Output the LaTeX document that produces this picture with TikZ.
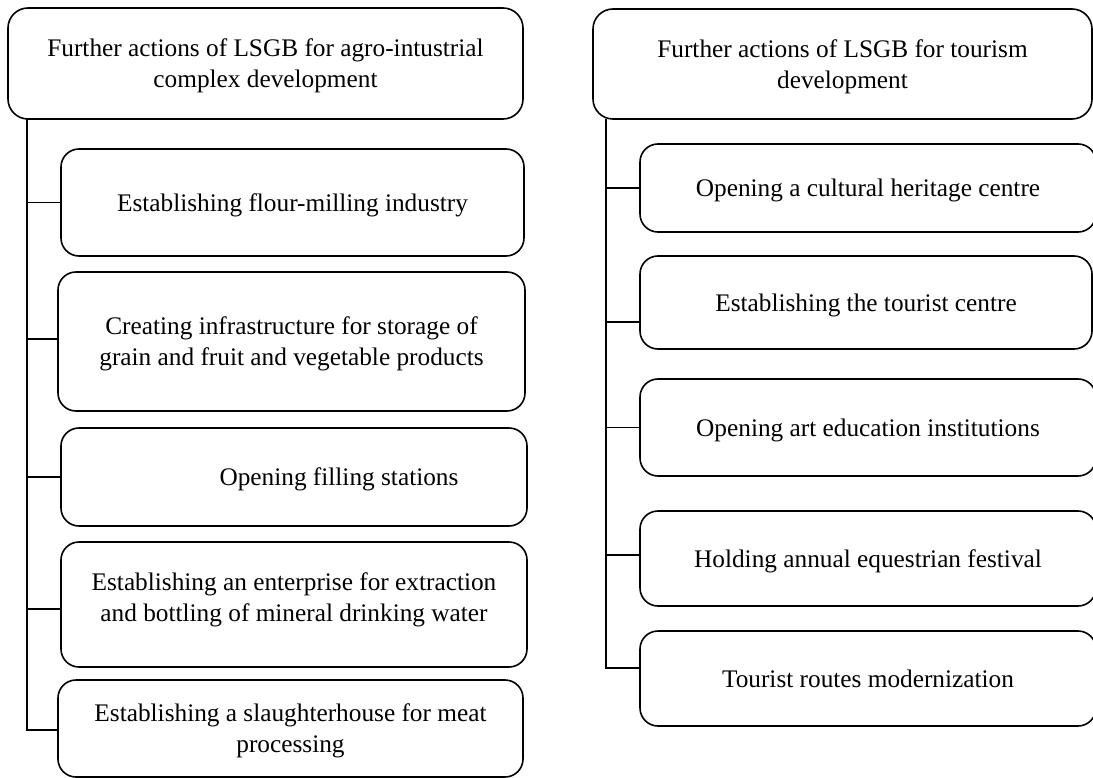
\documentclass[tikz,border=0pt]{standalone}
\usepackage{fontspec}
\setmainfont{Liberation Serif}
\usetikzlibrary{calc}
\begin{document}
\begin{tikzpicture}[
    x=1pt, y=-1pt,
    line width=1.6pt,
    head box/.style={draw, rounded corners=20pt, align=center, inner sep=0pt,
        text depth=0pt, font=\fontsize{25.3}{31}\selectfont},
    item box/.style={head box, rounded corners=18pt}
]
    \useasboundingbox (0,0) rectangle (1093,778);

    % agro-industrial column
    \node[head box, minimum width=515pt, minimum height=111pt] (hdrL) at (265.5,63.5)
        {Further actions of LSGB for agro-intustrial\\complex development};
    \node[item box, minimum width=463pt, minimum height=107pt] (L1) at (292.5,202.5)
        {Establishing flour-milling industry};
    \node[item box, minimum width=467pt, minimum height=139pt] (L2) at (291.5,341.5)
        {Creating infrastructure for storage of\\grain and fruit and vegetable products};
    \node[item box, minimum width=466pt, minimum height=98pt] (L3) at (294,477)
        {\hspace*{90pt}Opening filling stations};
    \node[item box, minimum width=466pt, minimum height=125pt, text depth=14pt] (L4) at (294,604.5)
        {Establishing an enterprise for extraction\\and bottling of mineral drinking water};
    \node[item box, minimum width=465pt, minimum height=97pt] (L5) at (290.5,728.5)
        {Establishing a slaughterhouse for meat\\processing};
    \coordinate (tL) at (27,119);
    \foreach \n/\dy in {L1/0,L2/-2.5,L3/0,L4/4.5,L5/1.5}
        \coordinate (\n-in) at ($(\n.west)+(0,\dy)$);
    \foreach \n in {L1,L2,L3,L4}
        \draw (tL |- \n-in) -- (\n-in);
    \draw (tL) |- (L5-in);

    % tourism column
    \node[head box, minimum width=499pt, minimum height=110pt] (hdrR) at (842.5,64)
        {Further actions of LSGB for tourism\\development};
    \node[item box, minimum width=456pt, minimum height=88pt] (R1) at (868,188)
        {Opening a cultural heritage centre};
    \node[item box, minimum width=452pt, minimum height=93pt] (R2) at (866,302.5)
        {Establishing the tourist centre};
    \node[item box, minimum width=456pt, minimum height=97pt, text depth=-6pt] (R3) at (868,427.5)
        {Opening art education institutions};
    \node[item box, minimum width=456pt, minimum height=95pt] (R4) at (868,558.5)
        {Holding annual equestrian festival};
    \node[item box, minimum width=456pt, minimum height=95pt] (R5) at (868,678.5)
        {Tourist routes modernization};
    \coordinate (tR) at (606,119);
    \foreach \n/\dy in {R1/0,R2/19.5,R3/0,R4/-3.5,R5/-10.5}
        \coordinate (\n-in) at ($(\n.west)+(0,\dy)$);
    \foreach \n in {R1,R2,R3,R4}
        \draw (tR |- \n-in) -- (\n-in);
    \draw (tR) |- (R5-in);
\end{tikzpicture}
\end{document}
